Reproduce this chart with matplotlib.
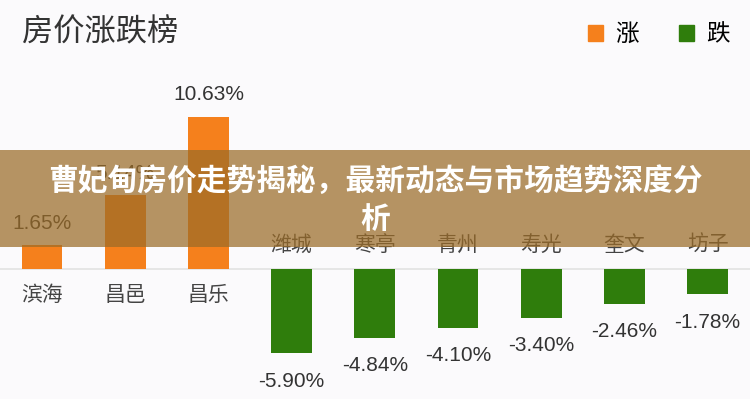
import matplotlib.pyplot as plt
from matplotlib.patches import Rectangle, Patch

cn = ['Noto Sans CJK SC', 'DejaVu Sans']
num = ['Liberation Sans', 'DejaVu Sans']

# data
up_cities = ['滨海', '昌邑', '昌乐']
up_values = [1.65, 5.14, 10.63]
down_cities = ['潍城', '寒亭', '青州', '寿光', '奎文', '坊子']
down_values = [-5.90, -4.84, -4.10, -3.40, -2.46, -1.78]

orange = '#f5801c'
green = '#2f7d0c'

fig = plt.figure(figsize=(7.5, 3.99), dpi=100, facecolor='#fbfafc')
ax = fig.add_axes([0, 0, 1, 1])
ax.set_facecolor('#fbfafc')

x_up = list(range(len(up_cities)))
x_down = [len(up_cities) + i for i in range(len(down_cities))]

b1 = ax.bar(x_up, up_values, width=0.49, color=orange, label='涨')
b2 = ax.bar(x_down, down_values, width=0.49, color=green, label='跌')
ax.axhline(0, color='#e2e2e2', lw=1.2, zorder=0)

ax.set_xlim(-0.505, 8.509)
ax.set_ylim(-9.09, 18.81)
ax.axis('off')

for x, v, c in zip(x_up, up_values, up_cities):
    ax.annotate(f'{v:.2f}%', (x, v), xytext=(0, 16), textcoords='offset points',
                ha='center', va='center', fontsize=15, color='#333333', family=num)
    ax.annotate(c, (x, 0), xytext=(0, -19), textcoords='offset points',
                ha='center', va='center', fontsize=15, color='#444444', family=cn)
for x, v, c in zip(x_down, down_values, down_cities):
    ax.annotate(f'{v:.2f}%', (x, v), xytext=(0, -20), textcoords='offset points',
                ha='center', va='center', fontsize=15, color='#333333', family=num)
    ax.annotate(c, (x, 0), xytext=(0, 17.5), textcoords='offset points',
                ha='center', va='center', fontsize=15, color='#444444', family=cn)

fig.text(22 / 750, 1 - 32 / 399, '房价涨跌榜', fontsize=22.5, color='#333333',
         ha='left', va='center', family=cn)

fig.legend(handles=[Patch(color=orange, label='涨'), Patch(color=green, label='跌')],
           loc='upper right', bbox_to_anchor=(0.973, 0.942), ncol=2, frameon=False,
           borderpad=0, borderaxespad=0,
           handlelength=0.65, handleheight=0.65, handletextpad=0.5, columnspacing=1.7,
           prop={'family': cn, 'size': 17})

# banner overlay
fig.patches.append(Rectangle((0, 152 / 399), 1, 97 / 399, transform=fig.transFigure,
                             facecolor=(155 / 255, 108 / 255, 40 / 255), alpha=0.72,
                             edgecolor='none', zorder=5))
fig.text(0.5, 1 - 200 / 399, '曹妃甸房价走势揭秘，最新动态与市场趋势深度分\n析',
         ha='center', va='center', fontsize=21.4, color='white', fontweight='bold',
         family=cn, linespacing=1.3, zorder=6)

fig.savefig('out.png', dpi=100, facecolor=fig.get_facecolor())
